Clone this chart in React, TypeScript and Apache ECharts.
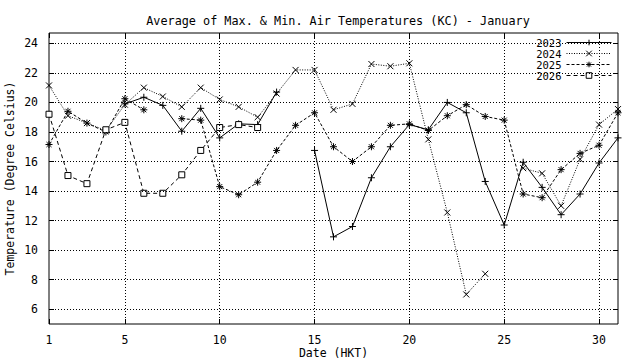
import React, { useEffect, useRef } from "react";
import * as echarts from "echarts";

const days = Array.from({ length: 31 }, (_, i) => i + 1);
const xTicks = [1, 5, 10, 15, 20, 25, 30];
const xGrid = [5, 10, 15, 20, 25, 30];
const yTicks = [6, 8, 10, 12, 14, 16, 18, 20, 22, 24];

const y2023 = [null, null, null, null, 19.9, 20.35, 19.8, 18.05, 19.6, 17.6, 18.55, 18.5, 20.7, null, 16.75, 10.9, 11.6, 14.9, 17.0, 18.5, 18.15, 20.0, 19.3, 14.65, 11.7, 15.95, 14.25, 12.4, 13.8, 15.9, 17.6];
const y2024 = [21.15, 19.1, 18.6, 18.1, 19.85, 21.0, 20.4, 19.7, 21.0, 20.2, 19.7, 19.0, 20.6, 22.2, 22.2, 19.5, 19.9, 22.6, 22.45, 22.65, 17.5, 12.55, 7.0, 8.4, null, 15.55, 15.2, 13.0, 16.15, 18.5, 19.55];
const y2025 = [17.15, 19.4, 18.6, 18.0, 20.25, 19.5, null, 18.9, 18.8, 14.3, 13.75, 14.6, 16.75, 18.45, 19.3, 17.0, 16.0, 17.0, 18.45, 18.55, 18.1, 19.1, 19.85, 19.05, 18.8, 13.8, 13.55, 15.45, 16.55, 17.1, 19.3];
const y2026 = [19.2, 15.05, 14.5, 18.15, 18.65, 13.85, 13.85, 15.1, 16.75, 18.3, 18.5, 18.3];

const FONT = "DejaVu Sans Mono";

const SYM_PLUS = "path://M0,-3.5L0,3.5M-3.5,0L3.5,0";
const SYM_CROSS = "path://M-3,-3L3,3M-3,3L3,-3";
const SYM_STAR = "path://M0,-3.5L0,3.5M-3.5,0L3.5,0M-2.5,-2.5L2.5,2.5M-2.5,2.5L2.5,-2.5";
const SYM_SQUARE = "path://M-3,-3L3,-3L3,3L-3,3Z";

function pairs(vals: (number | null)[]) {
  return vals.map((v, i) => [days[i], v]);
}

export default function App() {
  const ref = useRef<HTMLDivElement>(null);
  useEffect(() => {
    const chart = echarts.init(ref.current!, null, { renderer: "svg" });
    const itemStyle = { color: "#fff", borderColor: "#000", borderWidth: 1 };
    const mk = (name: string, vals: (number | null)[], symbol: string, size: number, dash: any, withGrid = false) => ({
      name,
      type: "line",
      data: pairs(vals),
      symbol,
      symbolSize: size,
      showSymbol: true,
      connectNulls: false,
      itemStyle,
      lineStyle: { color: "#000", width: 1, type: dash },
      emphasis: { disabled: true },
      z: 3,
      markLine: withGrid
        ? {
            silent: true,
            symbol: ["none", "none"],
            label: { show: false },
            lineStyle: { color: "#000", width: 1, type: [1, 2] },
            emphasis: { disabled: true },
            data: [
              ...xGrid.map((v) => ({ xAxis: v })),
              ...yTicks.map((v) => ({ yAxis: v })),
            ],
          }
        : undefined,
    });
    const axisLabelStyle = { fontFamily: FONT, fontSize: 11.5, color: "#000" };
    chart.setOption({
      animation: false,
      backgroundColor: "#fff",
      title: {
        text: "Average of Max. & Min. Air Temperatures (KC) - January",
        left: 333,
        top: 10,
        textAlign: "center",
        textStyle: { fontFamily: FONT, fontSize: 11.8, fontWeight: "normal", color: "#000" },
      },
      legend: {
        orient: "vertical",
        right: 28,
        top: 37,
        padding: 0,
        align: "right",
        itemWidth: 45,
        itemHeight: 7,
        itemGap: 0,
        itemStyle: { color: "#fff", borderColor: "#000", borderWidth: 1 },
        lineStyle: { width: 1, color: "#000" },
        textStyle: { fontFamily: FONT, fontSize: 10.5, color: "#000", lineHeight: 11, height: 11, padding: [0, 0, 0, 0] },
        data: ["2023", "2024", "2025", "2026"],
      },
      grid: {
        left: 49,
        right: 22,
        top: 33,
        bottom: 36,
        outerBoundsMode: "none",
        containLabel: false,
        show: true,
        borderColor: "#000",
        borderWidth: 1,
        backgroundColor: "transparent",
      },
      xAxis: [
        {
          type: "value",
          min: 1,
          max: 31,
          position: "bottom",
          name: "Date (HKT)",
          nameLocation: "middle",
          nameGap: 23,
          nameMoveOverlap: false,
          nameTextStyle: axisLabelStyle,
          axisLine: { show: false },
          axisTick: { show: true, inside: true, length: 5, customValues: xTicks, lineStyle: { color: "#000" } },
          axisLabel: { show: true, customValues: xTicks, margin: 10, ...axisLabelStyle },
          splitLine: { show: false },
        },
        {
          type: "value",
          min: 1,
          max: 31,
          position: "top",
          axisLine: { show: false },
          axisTick: { show: true, inside: true, length: 5, customValues: xTicks, lineStyle: { color: "#000" } },
          axisLabel: { show: false },
          splitLine: { show: false },
        },
      ],
      yAxis: [
        {
          type: "value",
          min: 5,
          max: 24.7,
          position: "left",
          name: "Temperature (Degree Celsius)",
          nameLocation: "middle",
          nameGap: 33,
          nameMoveOverlap: false,
          nameRotate: 90,
          nameTextStyle: axisLabelStyle,
          axisLine: { show: false },
          axisTick: { show: true, inside: true, length: 5, customValues: yTicks, lineStyle: { color: "#000" } },
          axisLabel: { show: true, customValues: yTicks, margin: 11, ...axisLabelStyle },
          splitLine: { show: false },
        },
        {
          type: "value",
          min: 5,
          max: 24.7,
          position: "right",
          axisLine: { show: false },
          axisTick: { show: true, inside: true, length: 5, customValues: yTicks, lineStyle: { color: "#000" } },
          axisLabel: { show: false },
          splitLine: { show: false },
        },
      ],
      series: [
        mk("2023", y2023, SYM_PLUS, 7, "solid", true),
        mk("2024", y2024, SYM_CROSS, 6, [1, 1.5]),
        mk("2025", y2025, SYM_STAR, 7, [3, 2]),
        mk("2026", y2026, SYM_SQUARE, 6, [4, 3]),
      ],
    });
    return () => chart.dispose();
  }, []);
  return (
    <div
      ref={ref}
      style={{ position: "absolute", left: 0, top: 0, width: 640, height: 360, background: "#fff" }}
    />
  );
}
